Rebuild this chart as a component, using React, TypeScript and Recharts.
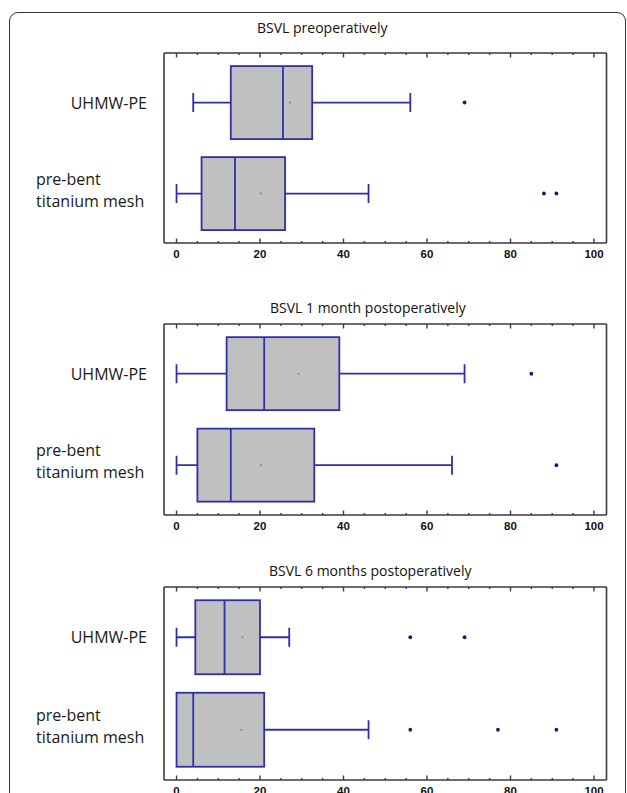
import { Bar, ComposedChart, ReferenceDot, XAxis, YAxis } from "recharts";

// five-number summaries per group: [lowWhisker, q1, median, q3, highWhisker]
const groups = ["UHMW-PE", "pre-bent\ntitanium mesh"];

const preopBoxes = [
  [4, 13, 25.5, 32.5, 56],
  [0, 6, 14, 26, 46],
];
const preopMeans = [27.2, 20.2];
const preopOutliers = [[69], [88, 91]];

const month1Boxes = [
  [0, 12, 21, 39, 69],
  [0, 5, 13, 33, 66],
];
const month1Means = [29.2, 20.2];
const month1Outliers = [[85], [91]];

const month6Boxes = [
  [0, 4.5, 11.5, 20, 27],
  [0, 0, 4, 21, 46],
];
const month6Means = [15.8, 15.5];
const month6Outliers = [[56, 69], [56, 77, 91]];

const titles = [
  "BSVL preoperatively",
  "BSVL 1 month postoperatively",
  "BSVL 6 months postoperatively",
];
const xTicks = [0, 5, 10, 15, 20, 25, 30, 35, 40, 45, 50, 55, 60, 65, 70, 75, 80, 85, 90, 95, 100];

const BLUE = "#2f2fae";
const FRAME = "#3a3a3a";

type Row = { name: string; lo: number; q1: number; med: number; q3: number; hi: number };

const toRows = (boxes: number[][]): Row[] =>
  groups.map((name, i) => ({
    name,
    lo: boxes[i][0],
    q1: boxes[i][1],
    med: boxes[i][2],
    q3: boxes[i][3],
    hi: boxes[i][4],
  }));

function BoxShape(props: any) {
  const { x, y, width, height, payload } = props;
  const { lo, q1, med, q3, hi } = payload as Row;
  // the bar spans lo..hi on the x scale, so positions inside it follow linearly
  const px = (v: number) => x + ((v - lo) / (hi - lo)) * width;
  const cy = y + height / 2;
  const cap = height * 0.13;
  const sw = 1.8;
  return (
    <g>
      {lo < q1 && (
        <>
          <line x1={px(lo)} x2={px(q1)} y1={cy} y2={cy} stroke={BLUE} strokeWidth={sw} />
          <line x1={px(lo)} x2={px(lo)} y1={cy - cap} y2={cy + cap} stroke={BLUE} strokeWidth={sw} />
        </>
      )}
      {hi > q3 && (
        <>
          <line x1={px(q3)} x2={px(hi)} y1={cy} y2={cy} stroke={BLUE} strokeWidth={sw} />
          <line x1={px(hi)} x2={px(hi)} y1={cy - cap} y2={cy + cap} stroke={BLUE} strokeWidth={sw} />
        </>
      )}
      <rect
        x={px(q1)}
        y={y}
        width={px(q3) - px(q1)}
        height={height}
        fill="#c0c0c0"
        stroke={BLUE}
        strokeWidth={sw}
      />
      <line x1={px(med)} x2={px(med)} y1={y} y2={y + height} stroke={BLUE} strokeWidth={sw} />
    </g>
  );
}

function BottomTick({ x, y, payload }: any) {
  const major = payload.value % 20 === 0;
  return (
    <g>
      <line x1={x} x2={x} y1={y} y2={y - (major ? 4.5 : 2)} stroke={FRAME} strokeWidth={1.4} />
      {major && (
        <text
          x={x}
          y={y + 15}
          textAnchor="middle"
          fontFamily="Liberation Sans, Arial, sans-serif"
          fontWeight="bold"
          fontSize={11.5}
          fill="#111"
        >
          {payload.value}
        </text>
      )}
    </g>
  );
}

function TopTick({ x, y, payload }: any) {
  const major = payload.value % 20 === 0;
  return <line x1={x} x2={x} y1={y} y2={y + (major ? 4.5 : 2)} stroke={FRAME} strokeWidth={1.4} />;
}

function GroupTick({ x, y, payload }: any) {
  const lines = String(payload.value).split("\n");
  const style = { fontFamily: "Open Sans, sans-serif", fontSize: 16, fill: "#1a1a1a" };
  if (lines.length === 1) {
    return (
      <text x={x - 17} y={y + 6} textAnchor="end" {...style}>
        {lines[0]}
      </text>
    );
  }
  return (
    <text x={x - 128} y={y - 9} textAnchor="start" {...style}>
      {lines.map((l, i) => (
        <tspan key={i} x={x - 128} dy={i === 0 ? 0 : 22}>
          {l}
        </tspan>
      ))}
    </text>
  );
}

function Panel({
  top,
  plotHeight,
  boxes,
  means,
  outliers,
}: {
  top: number;
  plotHeight: number;
  boxes: number[][];
  means: number[];
  outliers: number[][];
}) {
  const rows = toRows(boxes);
  const axisProps = { stroke: FRAME, strokeWidth: 1.6 };
  return (
    <div style={{ position: "absolute", left: 0, top }}>
      <ComposedChart
        width={627}
        height={10 + plotHeight + 22}
        data={rows}
        layout="vertical"
        barCategoryGap="10%"
        margin={{ top: 9, right: 19.5, bottom: 0, left: 0 }}
      >
        <XAxis
          type="number"
          domain={[-3, 103]}
          ticks={xTicks}
          allowDataOverflow
          height={22}
          tickSize={0}
          tickMargin={0}
          tickLine={false}
          axisLine={axisProps}
          tick={<BottomTick />}
          interval={0}
        />
        <XAxis
          xAxisId="top"
          orientation="top"
          type="number"
          domain={[-3, 103]}
          ticks={xTicks}
          allowDataOverflow
          height={1}
          tickSize={0}
          tickMargin={0}
          tickLine={false}
          axisLine={axisProps}
          tick={<TopTick />}
          interval={0}
        />
        <YAxis
          type="category"
          dataKey="name"
          width={164}
          padding={{ top: 4, bottom: 4 }}
          tickSize={0}
          tickMargin={0}
          tickLine={false}
          axisLine={axisProps}
          tick={<GroupTick />}
        />
        <YAxis
          yAxisId="right"
          orientation="right"
          type="category"
          dataKey="name"
          width={1}
          padding={{ top: 4, bottom: 4 }}
          tickLine={false}
          tick={false}
          axisLine={axisProps}
        />
        <Bar
          dataKey={(d: Row) => [d.lo, d.hi]}
          shape={<BoxShape />}
          isAnimationActive={false}
        />
        {rows.map((r, i) => (
          <ReferenceDot
            key={"m" + i}
            xAxisId="top"
            yAxisId="right"
            x={means[i]}
            y={r.name}
            r={1.1}
            fill="#8a8a8a"
            stroke="none"
          />
        ))}
        {rows.flatMap((r, i) =>
          outliers[i].map((v, j) => (
            <ReferenceDot
              key={"o" + i + "-" + j}
              x={v}
              y={r.name}
              r={1.9}
              fill="#1c1c6e"
              stroke="none"
            />
          ))
        )}
      </ComposedChart>
    </div>
  );
}

export default function App() {
  const titleStyle = { fontFamily: "Open Sans, sans-serif", fontSize: 14, fill: "#111" };
  return (
    <div
      style={{
        position: "fixed",
        left: 0,
        top: 0,
        width: 627,
        height: 793,
        overflow: "hidden",
        background: "#fff",
      }}
    >
      <div
        style={{
          position: "absolute",
          left: 8.5,
          top: 11.5,
          width: 615,
          height: 840,
          border: "1.6px solid #333",
          borderRadius: 9,
        }}
      />
      <Panel top={43} plotHeight={190} boxes={preopBoxes} means={preopMeans} outliers={preopOutliers} />
      <Panel top={314} plotHeight={191} boxes={month1Boxes} means={month1Means} outliers={month1Outliers} />
      <Panel top={577} plotHeight={193} boxes={month6Boxes} means={month6Means} outliers={month6Outliers} />
      <svg width={627} height={793} style={{ position: "absolute", left: 0, top: 0, pointerEvents: "none" }}>
        <text x={257} y={33} {...titleStyle}>
          {titles[0]}
        </text>
        <text x={270} y={313} {...titleStyle}>
          {titles[1]}
        </text>
        <text x={269} y={576} {...titleStyle}>
          {titles[2]}
        </text>
      </svg>
    </div>
  );
}
